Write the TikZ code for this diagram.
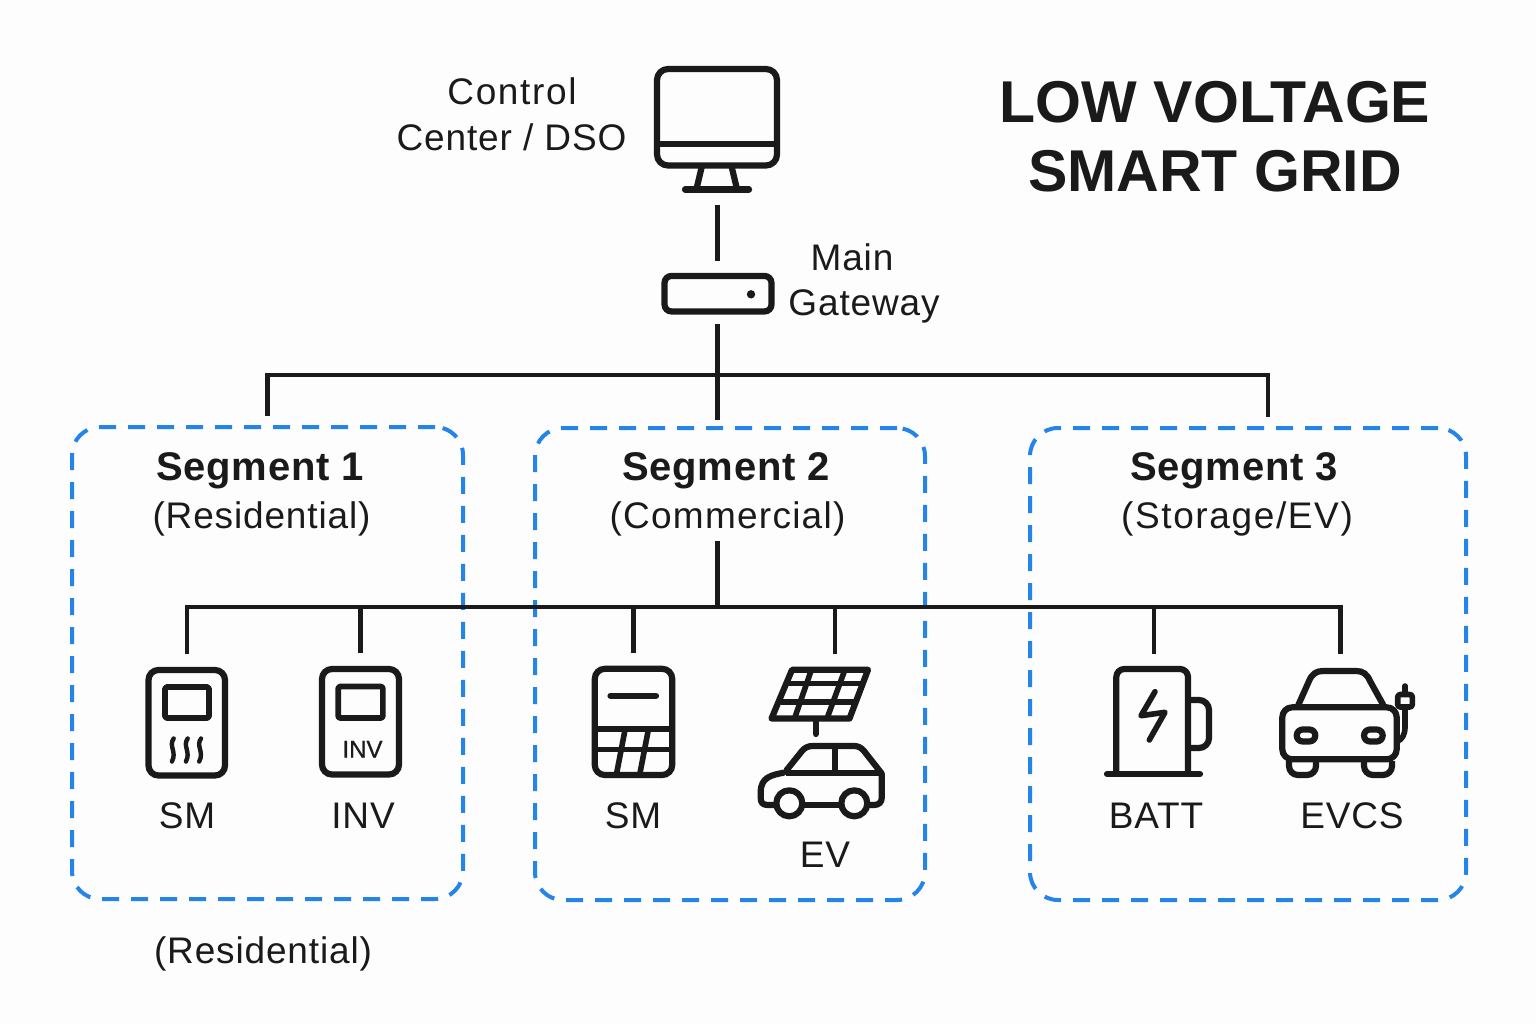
\documentclass[tikz,border=0pt]{standalone}
\usepackage{fontspec}
\setmainfont{Liberation Sans}
\newfontfamily\medfont[FakeBold=0.6]{Liberation Sans}
\newfontfamily\labfont[LetterSpace=2.3]{Liberation Sans}
\newfontfamily\labwide[LetterSpace=4.4]{Liberation Sans}
\newfontfamily\labmid[LetterSpace=3.4]{Liberation Sans}
\newfontfamily\segfont[LetterSpace=2]{Liberation Sans}
\definecolor{ink}{HTML}{1A1A1A}
\definecolor{segblue}{HTML}{2584E8}
\definecolor{paper}{HTML}{FDFDFD}
\tikzset{
  wire/.style={draw=ink,line width=4.2pt},
  icon/.style={draw=ink,line width=6.2pt,line join=round,line cap=round},
  thin icon/.style={draw=ink,line width=5.6pt,line join=round,line cap=round},
  segbox/.style={draw=segblue,line width=4pt,dash pattern=on 17pt off 12pt,rounded corners=28pt,minimum height=472pt,outer sep=0pt,inner sep=0pt},
  iconbox/.style={draw=ink,line width=6.2pt,rounded corners=10pt,outer sep=3.1pt,inner sep=0pt},
  ghost/.style={inner sep=0pt,outer sep=0pt,minimum width=40pt,minimum height=54pt},
  lab/.style={anchor=base,text=ink,font=\fontsize{37}{44}\selectfont\labfont,inner sep=0pt},
  seglab/.style={anchor=base,text=ink,font=\fontsize{40}{46}\selectfont\segfont\bfseries,inner sep=0pt},
  titlelab/.style={anchor=base,text=ink,font=\fontsize{59}{70}\selectfont\bfseries,inner sep=0pt},
}
\begin{document}
\begin{tikzpicture}[x=1pt,y=-1pt]
\useasboundingbox[fill=paper] (0,0) rectangle (1536,1024);
% segment boxes
\node[segbox,minimum width=391pt] (seg1) at (267.5,663) {};
\node[segbox,minimum width=390pt] (seg2) at (730,664) {};
\node[segbox,minimum width=436pt] (seg3) at (1248,664) {};
% title and texts
\node[titlelab] (t1) at (1215,123) {LOW VOLTAGE};
\node[titlelab] (t2) at (1215,192) {SMART GRID};
\node[lab,font=\fontsize{37}{44}\selectfont\labwide] (cc1) at (512,105) {Control};
\node[lab] (cc2) at (511.5,151) {Center / DSO};
\node[lab] (mg1) at (852,271) {Main};
\node[lab] (mg2) at (864,316) {Gateway};
\node[seglab] (s1a) at (260,480.5) {Segment 1};
\node[lab] (s1b) at (261.5,528) {(Residential)};
\node[seglab] (s2a) at (726,480.5) {Segment 2};
\node[lab,font=\fontsize{37}{44}\selectfont\labmid] (s2b) at (727.5,528) {(Commercial)};
\node[seglab] (s3a) at (1234,480.5) {Segment 3};
\node[lab,font=\fontsize{37}{44}\selectfont\labwide] (s3b) at (1237,528) {(Storage/EV)};
\node[lab] (l1) at (187,828) {SM};
\node[lab] (l2) at (363,828) {INV};
\node[lab] (l3) at (633,828) {SM};
\node[lab] (l4) at (825,867) {EV};
\node[lab] (l5) at (1156,828) {BATT};
\node[lab] (l6) at (1352,828) {EVCS};
\node[lab] (l7) at (263,963) {(Residential)};

% --- monitor
\node[ghost,minimum width=126pt,minimum height=126pt] (pc) at (717,129) {};
\draw[icon,rounded corners=11pt] (657,69) rectangle (777,165.5);
\draw[icon,line cap=butt] (657,144.3) -- (777,144.3);
\draw[icon,line cap=butt] (701.7,167) -- (696.7,188);
\draw[icon,line cap=butt] (731.7,167) -- (736.7,188);
\draw[icon] (685,189.5) -- (749,189.5);

% --- gateway
\node[iconbox,rounded corners=7pt,minimum width=107pt,minimum height=35.5pt] (gw) at (718,293.7) {};
\fill[ink] (751,294.3) circle[radius=4.2];

% --- connectors top
\coordinate (b0) at (717.5,375);
\coordinate (s3in) at (1268,428);
\draw[wire,line cap=butt,shorten <=13pt,shorten >=12pt] (pc.south -| b0) -- (gw.north -| b0);
\draw[wire,line cap=butt,shorten <=9pt,shorten >=8pt] (gw.south -| b0) -- (seg2.north -| b0);
\draw[wire,shorten >=11pt] (b0) -| (seg3.north -| s3in);
\draw[wire,shorten >=11pt] (b0) -| (seg1.north);

% --- icon anchors
\node[iconbox,minimum width=76.5pt,minimum height=105.5pt] (sm1) at (186.75,722.75) {};
\node[iconbox,minimum width=77pt,minimum height=105.5pt] (inv) at (360.5,721.75) {};
\node[iconbox,minimum width=77.4pt,minimum height=106.2pt] (sm2) at (633.5,721.9) {};
\node[ghost] (pv) at (835,694) {};
\node[ghost] (batt) at (1154,694) {};
\node[ghost] (evcs) at (1340.5,694) {};

% --- inner bus
\coordinate (trunk) at (717.5,541);
\coordinate (b1) at (717.5,607);
\draw[wire,line cap=butt] (trunk) -- (b1);
\draw[wire,line cap=rect] (sm1.north |- b1) -- (evcs.north |- b1);
\draw[wire,line cap=butt,shorten >=13pt] (sm1.north |- b1) -- (sm1.north);
\draw[wire,line cap=butt,shorten >=13pt] (inv.north |- b1) -- (inv.north);
\draw[wire,line cap=butt,shorten >=13pt] (sm2.north |- b1) -- (sm2.north);
\draw[wire,line cap=butt,shorten >=13pt] (pv.north |- b1) -- (pv.north);
\draw[wire,line cap=butt,shorten >=13pt] (batt.north |- b1) -- (batt.north);
\draw[wire,line cap=butt,shorten >=13pt] (evcs.north |- b1) -- (evcs.north);

% --- SM 1 details
\draw[thin icon,rounded corners=1.5pt] (165,687) rectangle (209,718);
\foreach \x in {172.7,186.7,200}{
  \draw[draw=ink,line width=4.4pt,line cap=round] (\x+1,738.5) .. controls (\x-4.5,746) and (\x+4.5,752) .. (\x-0.8,761.5);
}
% --- INV details
\draw[thin icon,rounded corners=1.5pt] (338.2,686.5) rectangle (382.8,718);
\node[anchor=base,text=ink,inner sep=0pt,font=\fontsize{24}{28}\selectfont\medfont] (invt) at (362.5,757.5) {INV};

% --- SM 2 details
\draw[icon] (610.5,695.7) -- (656,695.7);
\draw[thin icon,line cap=butt] (594.8,728.7) -- (672.2,728.7);
\draw[thin icon,line cap=butt] (594.8,749.5) -- (672.2,749.5);
\draw[thin icon,line cap=butt] (625,730) -- (616.7,773);
\draw[thin icon,line cap=butt] (648.3,730) -- (640,773);

% --- solar panel
\draw[icon] (792,669.8) -- (868,669.8) -- (849.5,718.5) -- (771.5,718.5) -- cycle;
\draw[thin icon,line cap=butt] (787.3,683.5) -- (863,683.5);
\draw[thin icon,line cap=butt] (780.7,701.7) -- (856.5,701.7);
\draw[thin icon,line cap=butt] (811.5,669.5) -- (794.5,718.5);
\draw[thin icon,line cap=butt] (845,669.5) -- (827,718.5);
\draw[icon] (815.7,721) -- (815.7,734);

% --- car
\draw[icon] (783.5,772.7) .. controls (772,775) and (760.7,777) .. (760.7,792)
  -- (760.7,798) .. controls (760.7,803) and (763,805) .. (768,805) -- (776,805);
\draw[icon] (802.5,805) -- (841,805);
\draw[icon] (867.5,805) -- (874,805) .. controls (879,805) and (881.7,802) .. (881.7,798) -- (881.7,773.5)
  -- (864,751) .. controls (861,747.5) and (858,746) .. (854,746) -- (813,746) .. controls (808,746) and (805,747.5) .. (802,751) -- (786.7,770);
\draw[icon,line cap=butt] (786,772.7) -- (881.7,772.7);
\draw[icon,line cap=butt] (835,746) -- (835,772);
\draw[icon] (789.3,803.3) circle[radius=13];
\draw[icon] (854.3,803.3) circle[radius=13];

% --- BATT
\draw[icon,rounded corners=8pt,line cap=butt] (1116.3,774) -- (1116.3,669) -- (1188,669) -- (1188,774);
\draw[icon] (1107,774) -- (1200,774);
\draw[icon,line cap=butt,rounded corners=10pt] (1190,700) -- (1209,700) -- (1209,748) -- (1190,748);
\draw[thin icon] (1155,691.7) -- (1141,715.7) -- (1165,712.3) -- (1149.3,740);

% --- EVCS
\draw[icon,rounded corners=10pt] (1282.3,707.3) rectangle (1396.7,759.3);
\draw[icon,line cap=butt] (1298.3,705) -- (1309,681) .. controls (1312,674) and (1316,671) .. (1323,671) -- (1356,671) .. controls (1363,671) and (1367,674) .. (1370,681) -- (1383.3,705);
\draw[icon,rounded corners=6pt] (1296.7,729.5) rectangle (1315.3,741.5);
\draw[icon,rounded corners=6pt] (1364,729.5) rectangle (1382.7,741.5);
\draw[icon,line cap=butt,rounded corners=9pt] (1289,761) -- (1289,775) -- (1316,775) -- (1316,761);
\draw[icon,line cap=butt,rounded corners=9pt] (1364,761) -- (1364,775) -- (1392,775) -- (1392,761);
\draw[thin icon,rounded corners=2.5pt] (1397.7,694.5) rectangle (1412.3,707);
\draw[thin icon] (1405,686) -- (1405,693);
\draw[thin icon,line cap=butt] (1405,708) -- (1405,727) .. controls (1405,735) and (1402,739) .. (1398,741);
\end{tikzpicture}
\end{document}
